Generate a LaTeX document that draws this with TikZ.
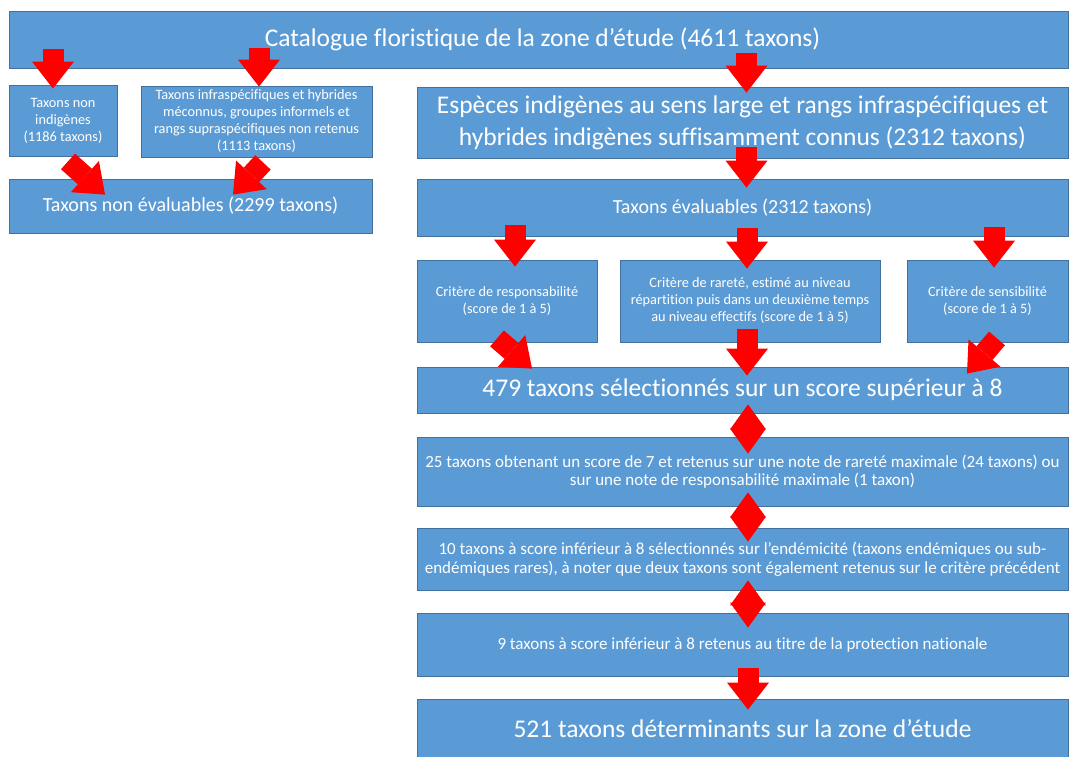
\documentclass[tikz,border=0pt]{standalone}
\usepackage{fontspec}
\setmainfont{Carlito}[Ligatures = {NoCommon}]
\usepackage{tikz}
\usetikzlibrary{calc, arrows.meta}
\definecolor{boxfill}{HTML}{5B9BD5}
\definecolor{boxline}{HTML}{41719C}
\tikzstyle{Arrow} = [
    draw = red,
    line width = 21pt,
    -{Triangle[length = 27pt, width = 42pt, line width = 0pt]}
]
\tikzstyle{TwoWay} = [
    draw = red,
    line width = 0.1pt,
    {Triangle[length = 25pt, width = 36pt, line width = 0pt]}-{Triangle[length = 25pt, width = 36pt, line width = 0pt]}
]

\begin{document}
\begin{tikzpicture}[
x = 1pt, y = -1pt,
box/.style = {
    rectangle,
    draw = boxline,
    line width = 0.8pt,
    fill = boxfill,
    text = white,
    align = center,
    inner sep = 0pt
    },
big/.style = {box, font = \fontsize{25.5}{32}\selectfont},
mid/.style = {box, font = \fontsize{20}{24}\selectfont},
med/.style = {box, font = \fontsize{17}{18.5}\selectfont},
small/.style = {box, font = \fontsize{14.3}{17}\selectfont}
]

\useasboundingbox (0, 0) rectangle (1069, 756);

\node [big, minimum width = 1059pt, minimum height = 57pt] (1) at (538.5, 39.5) {\hspace*{8pt}Catalogue floristique de la zone d’étude (4611 taxons)};
\node [small, minimum width = 108pt, minimum height = 71pt] (2) at (63, 120.5) {Taxons non\\indigènes\\(1186 taxons)};
\node [small, minimum width = 231pt, minimum height = 71pt] (3) at (256.5, 121.5) {Taxons infraspécifiques et hybrides\\méconnus, groupes informels et\\rangs supraspécifiques non retenus\\(1113 taxons)};
\node [mid, minimum width = 363pt, minimum height = 54pt] (4) at (190.5, 206) {Taxons non évaluables (2299 taxons)};
\node [big, minimum width = 651pt, minimum height = 71pt] (5) at (742.5, 122.5) {Espèces indigènes au sens large et rangs infraspécifiques et\\hybrides indigènes suffisamment connus (2312 taxons)};
\node [mid, minimum width = 651pt, minimum height = 57pt] (6) at (742.5, 207.5) {Taxons évaluables (2312 taxons)};
\node [small, minimum width = 180pt, minimum height = 82pt] (7) at (507, 301) {Critère de responsabilité\\(score de 1 à 5)};
\node [small, minimum width = 260pt, minimum height = 82pt] (8) at (750, 301) {Critère de rareté, estimé au niveau\\répartition puis dans un deuxième temps\\au niveau effectifs (score de 1 à 5)};
\node [small, minimum width = 161pt, minimum height = 82pt] (9) at (987.5, 301) {Critère de sensibilité\\(score de 1 à 5)};
\node [big, minimum width = 651pt, minimum height = 46pt] (10) at (742.5, 390) {479 taxons sélectionnés sur un score supérieur à 8};
\node [med, minimum width = 651pt, minimum height = 69pt] (11) at (742.5, 471.5) {25 taxons obtenant un score de 7 et retenus sur une note de rareté maximale (24 taxons) ou\\sur une note de responsabilité maximale (1 taxon)};
\node [med, minimum width = 651pt, minimum height = 62pt] (12) at (742.5, 559) {10 taxons à score inférieur à 8 sélectionnés sur l’endémicité (taxons endémiques ou sub-\\endémiques rares), à noter que deux taxons sont également retenus sur le critère précédent};
\node [med, minimum width = 651pt, minimum height = 63pt] (13) at (742.5, 644.5) {9 taxons à score inférieur à 8 retenus au titre de la protection nationale};
\node [big, minimum width = 651pt, minimum height = 59pt] (14) at (742.5, 728.5) {521 taxons déterminants sur la zone d’étude};

\draw[Arrow] ($(1.south -| 2.north) + (-10, -19)$) -- ($(2.north) + (-10, 4)$);
\draw[Arrow] ($(1.south -| 3.north) + (2.5, -20)$) -- ($(3.north) + (2.5, 1)$);
\draw[Arrow] ($(1.south -| 5.north) + (4, -15)$) -- ($(5.north) + (4, 6)$);

\draw[Arrow] ($(2.south) + (5, 5)$) -- ($(4.north -| 2.south) + (42, 16)$);
\draw[Arrow] ($(3.south) + (6.5, 5)$) -- ($(4.north -| 3.south) + (-23.5, 16)$);

\draw[Arrow] ($(5.south) + (4, -11)$) -- ($(6.north) + (4, 9)$);
\draw[Arrow] ($(6.south -| 7.north) + (8, -11)$) -- ($(7.north) + (8, 7)$);
\draw[Arrow] ($(6.south -| 8.north) + (-3, -8)$) -- ($(8.north) + (-3, 9)$);
\draw[Arrow] ($(6.south -| 9.north) + (6.5, -9)$) -- ($(9.north) + (6.5, 8)$);

\draw[Arrow] ($(7.south) + (-10, -4)$) -- ($(10.north -| 7.south) + (25, 2)$);
\draw[Arrow] ($(8.south) + (-3, -13)$) -- ($(10.north -| 8.south) + (-3, 9)$);
\draw[Arrow] ($(9.south) + (9.5, -4)$) -- ($(10.north -| 9.south) + (-20.5, 7)$);

\draw[TwoWay] ($(10.south) + (5.5, -9)$) -- ($(11.north) + (5.5, 17)$);
\draw[TwoWay] ($(11.south) + (5.5, -14)$) -- ($(12.north) + (5.5, 14)$);
\draw[TwoWay] ($(12.south) + (5.5, -10)$) -- ($(13.north) + (5.5, 15)$);
\draw[Arrow] ($(13.south) + (5.5, -8)$) -- ($(14.north) + (5.5, 11)$);

\end{tikzpicture}
\end{document}
